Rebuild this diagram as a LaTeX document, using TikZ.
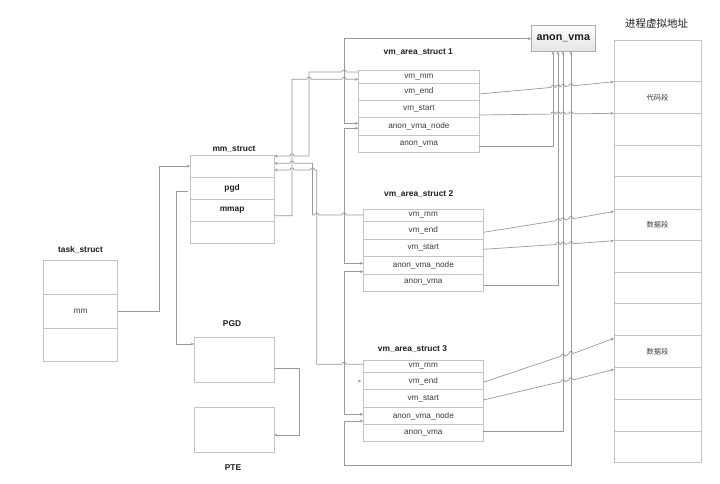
\documentclass[tikz,border=0pt]{standalone}
\usepackage{fontspec}
\setmainfont{Liberation Sans}
\newfontfamily\cjk{Noto Sans CJK SC}
\usetikzlibrary{arrows.meta,shadows,calc}
\definecolor{bx}{HTML}{C4C4C4}
\definecolor{ln}{HTML}{9A9A9A}
\definecolor{txt}{HTML}{3C3C3C}
\definecolor{ttl}{HTML}{1E1E1E}
\newcommand\hopR[2]{-- ({#1-2.1},#2) arc[start angle=180,end angle=0,radius=2.1pt]}
\newcommand\hopL[2]{-- ({#1+2.1},#2) arc[start angle=0,end angle=180,radius=2.1pt]}
\newcommand\hopS[1]{-- ({#1-2.1},{\LB+(#1-2.1-\LA)*(\LD-\LB)/(\LC-\LA)}) arc[start angle=180,end angle=0,radius=2.1pt]}
\begin{document}
\begin{tikzpicture}[x=1pt,y=-1pt,
  cell/.style={draw=bx, line width=0.7pt, anchor=north west, inner sep=0pt, outer sep=0pt, text=txt, font=\fontsize{8.2}{9}\selectfont},
  bcell/.style={cell, text=ttl, font=\bfseries\fontsize{8.4}{9}\selectfont},
  zh/.style={cell, minimum width=87pt, font=\cjk\fontsize{7.2}{8}\selectfont},
  ttlb/.style={font=\bfseries\fontsize{8.4}{10}\selectfont, text=ttl, inner sep=0pt},
  conn/.style={draw=ln, line width=0.7pt, -{Stealth[length=3.4pt,width=2.8pt]}},
  conn2/.style={draw=ln, line width=0.7pt, {Stealth[length=3.4pt,width=2.8pt]}-{Stealth[length=3.4pt,width=2.8pt]}}
]
\fill[white] (0,0) rectangle (720,484);
\useasboundingbox (0,0) rectangle (720,484);

% ---------- task_struct ----------
\node[ttlb] (tslab) at (80.5,250) {task\_struct};
\node[cell, minimum width=74.4pt, minimum height=33.8pt] (tsA) at (43.3,260.5) {};
\node[cell, minimum width=74.4pt, minimum height=34pt] (tsmm) at (43.3,294.3) {mm};
\node[cell, minimum width=74.4pt, minimum height=33.4pt] (tsC) at (43.3,328.3) {};

% ---------- mm_struct ----------
\node[ttlb] (mslab) at (234,149.3) {mm\_struct};
\node[cell, minimum width=84.3pt, minimum height=22.3pt] (msA) at (190,155) {};
\node[bcell, minimum width=84.3pt, minimum height=22.2pt] (mspgd) at (190,177.3) {pgd};
\node[bcell, minimum width=84.3pt, minimum height=21.8pt] (msmmap) at (190,199.5) {mmap};
\node[cell, minimum width=84.3pt, minimum height=22pt] (msD) at (190,221.3) {};

% ---------- PGD / PTE ----------
\node[ttlb] (pgdlab) at (232,324) {PGD};
\node[cell, minimum width=80.3pt, minimum height=45pt] (pgdb) at (194,337.3) {};
\node[cell, minimum width=80.3pt, minimum height=45.4pt] (pteb) at (194,407.3) {};
\node[ttlb] (ptelab) at (233,467.5) {PTE};

% ---------- vm_area_struct 1 ----------
\node[ttlb] (v1lab) at (418.3,52) {vm\_area\_struct 1};
\node[cell, minimum width=120.8pt, minimum height=12.6pt] (v1mm) at (358.5,70.7) {vm\_mm};
\node[cell, minimum width=120.8pt, minimum height=16.7pt] (v1end) at (358.5,83.3) {vm\_end};
\node[cell, minimum width=120.8pt, minimum height=17.7pt] (v1start) at (358.5,100) {vm\_start};
\node[cell, minimum width=120.8pt, minimum height=17.6pt] (v1node) at (358.5,117.7) {anon\_vma\_node};
\node[cell, minimum width=120.8pt, minimum height=17.4pt] (v1anon) at (358.5,135.3) {anon\_vma};

% ---------- vm_area_struct 2 ----------
\node[ttlb] (v2lab) at (418.7,194.3) {vm\_area\_struct 2};
\node[cell, minimum width=120pt, minimum height=12.4pt] (v2mm) at (363.3,209.3) {vm\_mm};
\node[cell, minimum width=120pt, minimum height=17.6pt] (v2end) at (363.3,221.7) {vm\_end};
\node[cell, minimum width=120pt, minimum height=17.4pt] (v2start) at (363.3,239.3) {vm\_start};
\node[cell, minimum width=120pt, minimum height=17.3pt] (v2node) at (363.3,256.7) {anon\_vma\_node};
\node[cell, minimum width=120pt, minimum height=17pt] (v2anon) at (363.3,274) {anon\_vma};

% ---------- vm_area_struct 3 ----------
\node[ttlb] (v3lab) at (412.5,349.3) {vm\_area\_struct 3};
\node[cell, minimum width=120pt, minimum height=12.3pt] (v3mm) at (363.3,360) {vm\_mm};
\node[cell, minimum width=120pt, minimum height=17.4pt] (v3end) at (363.3,372.3) {vm\_end};
\node[cell, minimum width=120pt, minimum height=17.6pt] (v3start) at (363.3,389.7) {vm\_start};
\node[cell, minimum width=120pt, minimum height=17.4pt] (v3node) at (363.3,407.3) {anon\_vma\_node};
\node[cell, minimum width=120pt, minimum height=17pt] (v3anon) at (363.3,424.7) {anon\_vma};

% ---------- anon_vma ----------
\node[draw=gray!65, line width=0.7pt, top color=white, bottom color=gray!20, minimum width=63.3pt, minimum height=26pt, inner sep=0pt, text=ttl, font=\bfseries\fontsize{10.8}{12}\selectfont, drop shadow={opacity=0.18, shadow xshift=0.9pt, shadow yshift=-0.9pt}] (av) at (563.3,38) {anon\_vma};

% ---------- virtual address space ----------
\node[font=\cjk\fontsize{10.5}{12}\selectfont, text=ttl, inner sep=0pt] (vtitle) at (656.7,24) {进程虚拟地址};
\node[zh, minimum height=41.7pt] (va0) at (614,40) {};
\node[zh, minimum height=31.6pt] (va1) at (614,81.7) {代码段};
\node[zh, minimum height=31.7pt] (va2) at (614,113.3) {};
\node[zh, minimum height=31.7pt] (va3) at (614,145) {};
\node[zh, minimum height=32.3pt] (va4) at (614,176.7) {};
\node[zh, minimum height=31.7pt] (va5) at (614,209) {数据段};
\node[zh, minimum height=31.6pt] (va6) at (614,240.7) {};
\node[zh, minimum height=31pt] (va7) at (614,272.3) {};
\node[zh, minimum height=32.4pt] (va8) at (614,303.3) {};
\node[zh, minimum height=31.6pt] (va9) at (614,335.7) {数据段};
\node[zh, minimum height=32pt] (va10) at (614,367.3) {};
\node[zh, minimum height=31.7pt] (va11) at (614,399.3) {};
\node[zh, minimum height=31pt] (va12) at (614,431) {};

% ---------- connectors: left part ----------
\draw[conn] (tsmm.east) -| (159,166.15) -- (msA.west);
\draw[conn] ([xshift=-2.5pt]mspgd.west |- 0,191) -| (176.7,344) -- (pgdb.west |- 0,344);
\draw[conn] (pgdb.east |- 0,368.3) -| (299,435) -- (pteb.east |- 0,435);

% mmap -> vma1
\draw[conn] (msmmap.east |- 0,215.7) -| (292,79.3) \hopR{309}{79.3} \hopR{344}{79.3} -- (v1mm.west |- 0,79.3);
% vm_mm -> mm_struct
\draw[conn] (v1mm.west |- 0,72) \hopL{344}{72} -- (309,72) -- (309,156) \hopL{292}{156} -- (msA.east |- 0,156);
\draw[conn] (v2mm.west |- 0,215) \hopL{344}{215} \hopL{316.7}{215} -- (312.5,215) -- (312.5,163.3) \hopL{292}{163.3} -- (msA.east |- 0,163.3);
\draw[conn] (v3mm.west |- 0,364.3) \hopL{344}{364.3} -- (316.7,364.3) -- (316.7,170) \hopL{312.5}{170} \hopL{292}{170} -- (msA.east |- 0,170);

% anon_vma_node chain
\draw[conn2] (v1node.west |- 0,123.3) -| (344,38.7) -- (av.west |- 0,38.7);
\draw[conn2] (v1node.west |- 0,128.3) -| (344,263.3) -- (v2node.west |- 0,263.3);
\draw[conn2] (v2node.west |- 0,271.7) -| (344,414.3) -- (v3node.west |- 0,414.3);
\draw[conn2] (v3node.west |- 0,421) -| (344,465.7) -| (av.south -| 571,0);

% anon_vma pointers
\draw[conn] (v1anon.east |- 0,146) -| (av.south -| 553,0);
\draw[conn] (v2anon.east |- 0,285) -| (av.south -| 558,0);
\draw[conn] (v3anon.east |- 0,431.7) -| (av.south -| 563,0);

% stray arrow head at vma3 vm_end
\draw[conn] ([xshift=-5.8pt]v3end.west) -- ([xshift=-2pt]v3end.west);

% vm_end / vm_start -> address space
\def\LA{479.3}\def\LB{94}\def\LC{614}\def\LD{81.7}
\draw[conn] (v1end.east |- 0,94) \hopS{553}\hopS{558}\hopS{563}\hopS{571} -- (va1.north west);
\def\LA{479.3}\def\LB{115}\def\LC{614}\def\LD{113.3}
\draw[conn] (v1start.east |- 0,115) \hopS{553}\hopS{558}\hopS{563}\hopS{571} -- (va2.north west);
\def\LA{483.3}\def\LB{232.3}\def\LC{614}\def\LD{211.5}
\draw[conn] (v2end.east |- 0,232.3) \hopS{558}\hopS{563}\hopS{571} -- (va5.north west |- 0,211.5);
\def\LA{483.3}\def\LB{249.3}\def\LC{614}\def\LD{240.7}
\draw[conn] (v2start.east |- 0,249.3) \hopS{558}\hopS{563}\hopS{571} -- (va6.north west);
\def\LA{483.3}\def\LB{382.3}\def\LC{614}\def\LD{338.3}
\draw[conn] (v3end.east |- 0,382.3) \hopS{563}\hopS{571} -- (va9.north west |- 0,338.3);
\def\LA{483.3}\def\LB{400}\def\LC{614}\def\LD{369.3}
\draw[conn] (v3start.east |- 0,400) \hopS{563}\hopS{571} -- (va10.north west |- 0,369.3);
\end{tikzpicture}
\end{document}
